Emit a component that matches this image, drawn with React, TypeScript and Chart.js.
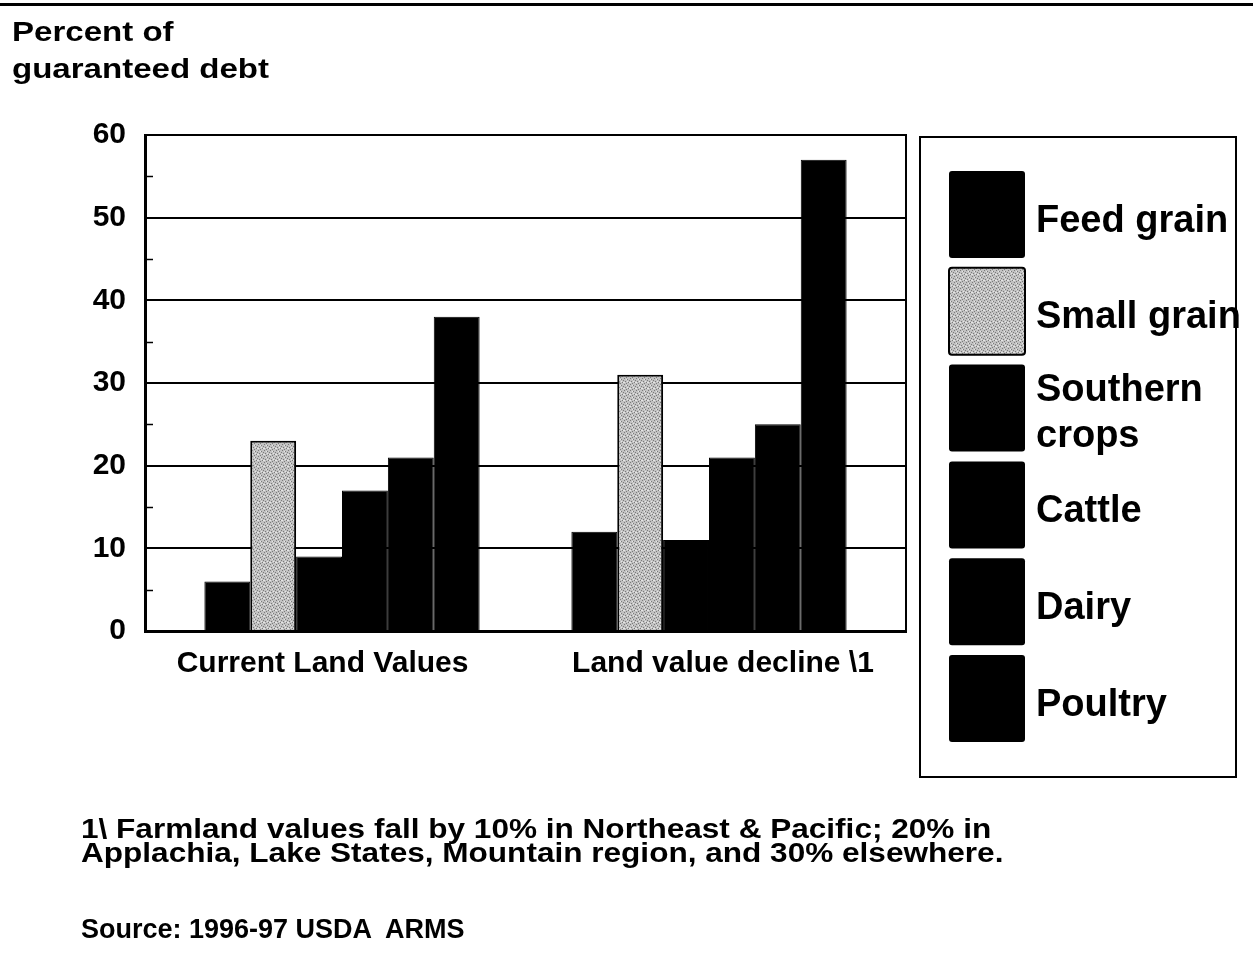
import React, { useEffect, useRef } from 'react';
import { Chart, registerables } from 'chart.js';

Chart.register(...registerables);

const FONT = '"Liberation Sans", Arial, Helvetica, sans-serif';

// ---- data ----
const categories = ['Current Land Values', 'Land value decline \\1'];
const seriesNames = ['Feed grain', 'Small grain', 'Southern crops', 'Cattle', 'Dairy', 'Poultry'];
const legendLabels = [['Feed grain'], ['Small grain'], ['Southern', 'crops'], ['Cattle'], ['Dairy'], ['Poultry']];
const feedGrain = [6, 12];
const smallGrain = [23, 31];
const southernCrops = [9, 11];
const cattle = [17, 21];
const dairy = [21, 25];
const poultry = [38, 57];
const seriesValues = [feedGrain, smallGrain, southernCrops, cattle, dairy, poultry];
const yMin = 0;
const yMax = 60;
const yMinorStep = 5;
const yMajorStep = 10;
const titleLines = ['Percent of', 'guaranteed debt'];
const noteLines = [
  '1\\ Farmland values fall by 10% in Northeast & Pacific; 20% in',
  'Applachia, Lake States, Mountain region, and 30% elsewhere.',
];
const sourceLine = 'Source: 1996-97 USDA  ARMS';

// ---- layout / style (not data) ----
const X_RANGE_MIN = -0.5368;
const X_RANGE_MAX = 1.5368;
const LABEL_SHIFT = [-0.053, 0.038];

function makeStipple(ctx: CanvasRenderingContext2D) {
  const pc = document.createElement('canvas');
  pc.width = 6;
  pc.height = 6;
  const p = pc.getContext('2d')!;
  p.fillStyle = '#c2c2c2';
  p.fillRect(0, 0, 6, 6);
  p.fillStyle = '#7a7a7a';
  [[0, 0], [3, 1], [1, 3], [4, 4], [2, 5], [5, 2]].forEach(([x, y]) => p.fillRect(x, y, 1, 1));
  p.fillStyle = '#e6e6e6';
  [[2, 1], [5, 4], [0, 4], [3, 3]].forEach(([x, y]) => p.fillRect(x, y, 1, 1));
  return ctx.createPattern(pc, 'repeat');
}

const framePlugin = {
  id: 'plotFrame',
  afterDraw(chart: any) {
    const { ctx, chartArea } = chart;
    const y = chart.scales.y;
    ctx.save();
    ctx.strokeStyle = '#000';
    ctx.lineWidth = 2;
    ctx.beginPath();
    ctx.moveTo(chartArea.right, chartArea.top - 1);
    ctx.lineTo(chartArea.right, chartArea.bottom + 1);
    ctx.stroke();
    // minor ticks, inside the axis
    y.ticks.forEach((t: any) => {
      if (t.value % yMajorStep !== 0) {
        const py = Math.round(y.getPixelForValue(t.value)) + 0.5;
        ctx.lineWidth = 1.5;
        ctx.beginPath();
        ctx.moveTo(chartArea.left, py);
        ctx.lineTo(chartArea.left + 8, py);
        ctx.stroke();
      }
    });
    ctx.restore();
  },
};

const legendPlugin = {
  id: 'boxLegend',
  afterDraw(chart: any) {
    const ctx = chart.ctx;
    const swX = 949;
    const swW = 76;
    const swH = 87;
    const swTop0 = 171;
    const step = 96.8;
    const textX = 1036;
    ctx.save();
    chart.data.datasets.forEach((ds: any, i: number) => {
      const top = swTop0 + i * step;
      ctx.fillStyle = ds.backgroundColor;
      ctx.beginPath();
      ctx.roundRect(swX, top, swW, swH, 3);
      ctx.fill();
      if (ds.borderWidth > 1) {
        ctx.strokeStyle = '#000';
        ctx.lineWidth = 2;
        ctx.stroke();
      }
      const lines = legendLabels[i];
      ctx.fillStyle = '#000';
      ctx.font = `bold 38px ${FONT}`;
      ctx.textBaseline = 'alphabetic';
      ctx.textAlign = 'left';
      const c = top + swH / 2;
      if (lines.length === 1) {
        ctx.fillText(lines[0], textX, c + 17);
      } else {
        ctx.fillText(lines[0], textX, c - 7);
        ctx.fillText(lines[1], textX, c + 39);
      }
    });
    ctx.strokeStyle = '#000';
    ctx.lineWidth = 2;
    ctx.strokeRect(920, 137, 316, 640);
    ctx.restore();
  },
};

export default function App() {
  const canvasRef = useRef<HTMLCanvasElement | null>(null);

  useEffect(() => {
    const canvas = canvasRef.current!;
    const ctx = canvas.getContext('2d')!;
    const stipple = makeStipple(ctx);
    const chart = new Chart(canvas, {
      type: 'bar',
      data: {
        datasets: seriesNames.map((name, i) => ({
          label: name,
          data: seriesValues[i].map((v, ci) => ({ x: ci, y: v })),
          backgroundColor: i === 1 ? (stipple as any) : '#000',
          borderColor: '#000',
          borderWidth: i === 1 ? 2 : 1,
          borderSkipped: 'start',
          categoryPercentage: 0.75,
          barPercentage: 1,
        })),
      },
      options: {
        responsive: false,
        animation: false,
        events: [],
        layout: { padding: { left: 0, top: 135, right: 347, bottom: 281 } },
        plugins: {
          legend: { display: false },
          tooltip: { enabled: false },
          title: { display: false },
        },
        scales: {
          x: {
            type: 'linear',
            offset: false,
            min: X_RANGE_MIN,
            max: X_RANGE_MAX,
            grid: { display: false, drawTicks: false, offset: false },
            border: { display: true, color: '#000', width: 3 },
            afterBuildTicks: (s: any) => {
              s.ticks = categories.map((_, i) => ({ value: i + LABEL_SHIFT[i] }));
            },
            ticks: {
              autoSkip: false,
              maxRotation: 0,
              callback: (_v: any, idx: number) => categories[idx],
              color: '#000',
              font: { family: FONT, size: 30, weight: 'bold' },
              padding: 15,
            },
            afterFit: (s: any) => {
              s.height = 60;
            },
          },
          y: {
            min: yMin,
            max: yMax,
            ticks: {
              stepSize: yMinorStep,
              autoSkip: false,
              callback: (v: any) => (v % yMajorStep === 0 ? String(v) : ''),
              color: '#000',
              font: { family: FONT, size: 30, weight: 'bold' },
              padding: 19,
            },
            grid: {
              color: (c: any) => (c.tick && c.tick.value % yMajorStep === 0 ? '#000' : 'rgba(0,0,0,0)'),
              lineWidth: 2,
              drawTicks: false,
            },
            border: { display: true, color: '#000', width: 3 },
            afterFit: (s: any) => {
              s.width = 145;
            },
          },
        },
      },
      plugins: [framePlugin, legendPlugin],
    } as any);
    return () => chart.destroy();
  }, []);

  const textBase: React.CSSProperties = {
    position: 'absolute',
    fontFamily: FONT,
    fontWeight: 'bold',
    color: '#000',
    whiteSpace: 'pre',
    margin: 0,
  };

  return (
    <div style={{ position: 'absolute', left: 0, top: 0, width: 1253, height: 972, background: '#fff', overflow: 'hidden' }}>
      <div style={{ position: 'absolute', left: 0, top: 3, width: 1253, height: 3, background: '#000' }} />
      <canvas ref={canvasRef} width={1253} height={972} style={{ position: 'absolute', left: 0, top: 0, width: 1253, height: 972 }} />
      <div style={{ ...textBase, left: 12, top: 14, fontSize: 28, lineHeight: '36.5px', transform: 'scaleX(1.18)', transformOrigin: '0 0' }}>
        {titleLines.map((l) => (
          <div key={l}>{l}</div>
        ))}
      </div>
      <div style={{ ...textBase, left: 81, top: 817, fontSize: 28, lineHeight: '24px', transform: 'scaleX(1.127)', transformOrigin: '0 0' }}>
        {noteLines.map((l) => (
          <div key={l}>{l}</div>
        ))}
      </div>
      <div style={{ ...textBase, left: 81, top: 917, fontSize: 27, lineHeight: '24px' }}>{sourceLine}</div>
    </div>
  );
}
